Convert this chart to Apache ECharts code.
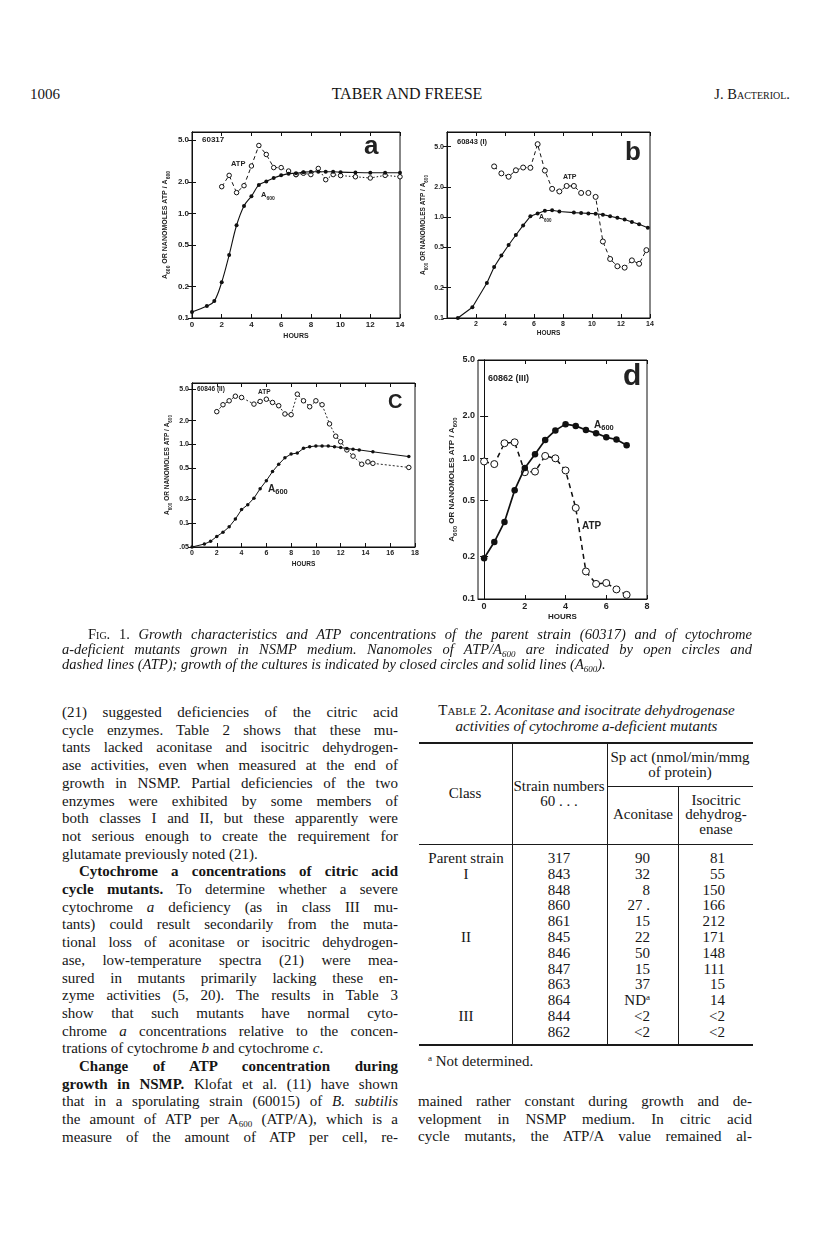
<!DOCTYPE html>
<html>
<head>
<meta charset="utf-8">
<title>Taber and Freese, p. 1006</title>
<script src="https://cdn.jsdelivr.net/npm/echarts@6.0.0/dist/echarts.min.js"></script>
<style>
  body { margin: 0; background: #fff; }
  #page { position: relative; width: 816px; height: 1235px; overflow: hidden;
          font-family: "Liberation Serif", "DejaVu Serif", serif; color: #151515; }
  #fig { position: absolute; left: 0; top: 0; width: 816px; height: 630px; }
  .t { position: absolute; white-space: nowrap; }
  .lines { position: absolute; }
  .lines div { white-space: nowrap; text-align: justify; text-align-last: justify; }
  .lines div.end { text-align-last: left; }
  .lines div.ind { text-indent: 17px; }
  sub { font-size: 9px; vertical-align: -3px; line-height: 0; }
  sup { font-size: 9px; vertical-align: 5px; line-height: 0; }
  .sc { font-variant: small-caps; }
  .rule { position: absolute; background: #1a1a1a; }
  .c { position: absolute; white-space: nowrap; transform: translate(-50%, -50%); }
  .r { position: absolute; white-space: nowrap; transform: translate(-100%, -50%); }
</style>
</head>
<body>
<div id="page">
  <div class="t" style="left:30px;top:86px;font-size:15px;">1006</div>
  <div class="t" style="left:0;width:814px;text-align:center;top:85px;font-size:16px;">TABER AND FREESE</div>
  <div class="t" style="right:26px;top:86px;font-size:14.5px;">J. <span class="sc">Bacteriol.</span></div>

  <div id="fig"></div>

  <div class="lines" style="left:62px;top:627px;width:690px;font-size:14.5px;line-height:15px;">
    <div style="text-indent:26px;"><span class="sc">Fig.</span> 1. <i>Growth characteristics and ATP concentrations of the parent strain (60317) and of cytochrome</i></div>
    <div><i>a-deficient mutants grown in NSMP medium. Nanomoles of ATP/A<sub>600</sub> are indicated by open circles and</i></div>
    <div class="end"><i>dashed lines (ATP); growth of the cultures is indicated by closed circles and solid lines (A<sub>600</sub>).</i></div>
  </div>

  <div class="lines" style="left:62px;top:704px;width:336px;font-size:15px;line-height:17.7px;">
    <div>(21) suggested deficiencies of the citric acid</div>
    <div>cycle enzymes. Table 2 shows that these mu-</div>
    <div>tants lacked aconitase and isocitric dehydrogen-</div>
    <div>ase activities, even when measured at the end of</div>
    <div>growth in NSMP. Partial deficiencies of the two</div>
    <div>enzymes were exhibited by some members of</div>
    <div>both classes I and II, but these apparently were</div>
    <div>not serious enough to create the requirement for</div>
    <div class="end">glutamate previously noted (21).</div>
    <div class="ind"><b>Cytochrome a concentrations of citric acid</b></div>
    <div><b>cycle mutants.</b> To determine whether a severe</div>
    <div>cytochrome <i>a</i> deficiency (as in class III mu-</div>
    <div>tants) could result secondarily from the muta-</div>
    <div>tional loss of aconitase or isocitric dehydrogen-</div>
    <div>ase, low-temperature spectra (21) were mea-</div>
    <div>sured in mutants primarily lacking these en-</div>
    <div>zyme activities (5, 20). The results in Table 3</div>
    <div>show that such mutants have normal cyto-</div>
    <div>chrome <i>a</i> concentrations relative to the concen-</div>
    <div class="end">trations of cytochrome <i>b</i> and cytochrome <i>c</i>.</div>
    <div class="ind"><b>Change of ATP concentration during</b></div>
    <div><b>growth in NSMP.</b> Klofat et al. (11) have shown</div>
    <div>that in a sporulating strain (60015) of <i>B. subtilis</i></div>
    <div>the amount of ATP per A<sub>600</sub> (ATP/A), which is a</div>
    <div>measure of the amount of ATP per cell, re-</div>
  </div>

  <div class="t" style="left:430px;width:313px;text-align:center;top:703px;font-size:15px;line-height:15.5px;">
    <span class="sc">Table</span> 2. <i>Aconitase and isocitrate dehydrogenase</i><br>
    <i>activities of cytochrome a-deficient mutants</i>
  </div>
  <div id="table"></div>
  <div class="t" style="left:428px;top:1053px;font-size:15px;"><sup>a</sup> Not determined.</div>

  <div class="lines" style="left:418px;top:1093px;width:334px;font-size:15px;line-height:17.7px;">
    <div>mained rather constant during growth and de-</div>
    <div>velopment in NSMP medium. In citric acid</div>
    <div>cycle mutants, the ATP/A value remained al-</div>
  </div>
</div>

<script>
// ---- Fig. 1 data (hours, A600 / nmol ATP per A600) ----
// a: parent strain 60317
const hoursA600a = [0, 1, 1.5, 2, 2.5, 3, 3.5, 4, 4.5, 5, 5.5, 6, 6.5, 7, 7.5, 8, 8.5, 9, 9.5, 10, 11, 12, 13, 14];
const a600a = [0.114, 0.13, 0.145, 0.22, 0.40, 0.77, 1.18, 1.46, 1.87, 2.02, 2.18, 2.31, 2.40, 2.42, 2.48, 2.5, 2.5, 2.5, 2.5, 2.48, 2.46, 2.45, 2.45, 2.45];
const hoursAtpA = [2, 2.5, 3, 3.5, 4, 4.5, 5, 5.5, 6, 6.5, 7, 7.5, 8, 8.5, 9, 9.5, 10, 11, 12, 13, 14];
const atpA = [1.8, 2.31, 1.58, 1.84, 2.84, 4.46, 3.66, 2.74, 2.74, 2.54, 2.35, 2.42, 2.35, 2.69, 2.1, 2.35, 2.3, 2.24, 2.18, 2.31, 2.24];
const atpDashEndA = 11;   // dashed up to 7 h, dotted afterwards

// b: 60843 (I)
const hoursA600b = [0.75, 1.75, 2.75, 3.25, 3.75, 4.25, 4.75, 5.25, 5.75, 6.25, 6.75, 7.25, 7.75, 8.75, 9.25, 9.75, 10.25, 10.75, 11.25, 11.75, 12.25, 12.75, 13.25, 13.85];
const a600b = [0.1, 0.128, 0.222, 0.321, 0.416, 0.53, 0.666, 0.828, 1.02, 1.09, 1.16, 1.17, 1.14, 1.11, 1.1, 1.09, 1.08, 1.06, 1.02, 0.985, 0.947, 0.896, 0.85, 0.785];
const hoursAtpB = [3.25, 3.75, 4.25, 4.75, 5.25, 5.75, 6.25, 6.75, 7.25, 7.75, 8.25, 8.75, 9.25, 9.75, 10.25, 10.75, 11.25, 11.75, 12.25, 12.75, 13.25, 13.75];
const atpB = [3.19, 2.72, 2.52, 2.92, 3.11, 3.09, 5.3, 2.9, 1.91, 1.8, 2.04, 2.04, 1.74, 1.74, 1.59, 0.574, 0.385, 0.326, 0.316, 0.373, 0.345, 0.471];

// c: 60846 (II)
const hoursA600c = [0, 1, 1.5, 2, 2.5, 3, 3.5, 4, 4.5, 5, 5.5, 6, 6.5, 7, 7.5, 8, 8.5, 9, 9.5, 10, 10.5, 11, 11.5, 12, 12.5, 13, 13.5, 14.6, 17.5];
const a600c = [0.05, 0.0545, 0.059, 0.068, 0.077, 0.09, 0.113, 0.149, 0.172, 0.208, 0.274, 0.347, 0.452, 0.56, 0.675, 0.755, 0.775, 0.89, 0.935, 0.954, 0.954, 0.954, 0.935, 0.91, 0.885, 0.87, 0.85, 0.805, 0.70];
const hoursAtpC = [2, 2.5, 3, 3.5, 4, 5, 5.5, 6, 6.5, 7, 7.5, 8, 8.5, 9, 9.5, 10, 10.5, 11.1, 11.6, 12, 12.5, 13, 13.7, 14.2, 14.6, 17.5];
const atpC = [2.6, 3.18, 3.57, 4.08, 3.93, 3.24, 3.5, 3.74, 3.4, 3.09, 2.43, 2.38, 4.33, 3.57, 3.0, 3.57, 3.18, 1.82, 1.27, 1.08, 0.85, 0.71, 0.56, 0.6, 0.575, 0.51];

// d: 60862 (III)
const hoursD = [0, 0.5, 1, 1.5, 2, 2.5, 3, 3.5, 4, 4.5, 5, 5.5, 6, 6.5, 7];
const a600d = [0.195, 0.254, 0.353, 0.594, 0.855, 1.07, 1.35, 1.58, 1.75, 1.7, 1.59, 1.51, 1.41, 1.36, 1.24];
const atpD = [0.95, 0.91, 1.28, 1.3, 0.797, 0.805, 1.04, 1.0, 0.82, 0.444, 0.157, 0.128, 0.13, 0.117, 0.107];

// tick positions / labels
const logTicks = [0.1, 0.2, 0.5, 1, 2, 5];
const logTicksC = [0.05, 0.1, 0.2, 0.5, 1, 2, 5];
const logTickText = ['.05', '0.1', '0.2', '0.5', '1.0', '2.0', '5.0'];
const logTickVals = [0.05, 0.1, 0.2, 0.5, 1, 2, 5];
const hourTicks14 = [0, 2, 4, 6, 8, 10, 12, 14];
const hourLabelsB = [2, 4, 6, 8, 10, 12, 14];
const hourTicks18 = [0, 2, 4, 6, 8, 10, 12, 14, 16, 18];
const hourTicks8 = [0, 2, 4, 6, 8];

// ---- Table 2 ----
const tableClass = ['Parent strain', 'I', '', '', '', 'II', '', '', '', '', 'III', ''];
const tableStrain = ['317', '843', '848', '860', '861', '845', '846', '847', '863', '864', '844', '862'];
const tableAconitase = ['90', '32', '8', '27 .', '15', '22', '50', '15', '37', 'ND<sup>a</sup>', '&lt;2', '&lt;2'];
const tableIcd = ['81', '55', '150', '166', '212', '171', '148', '111', '15', '14', '&lt;2', '&lt;2'];

const SANS = '"Liberation Sans", "DejaVu Sans", Arial, sans-serif';
const pairs = (xs, ys) => xs.map((x, k) => [x, ys[k]]);
const logLabel = v => {
  for (let k = 0; k < logTickVals.length; k++) {
    if (Math.abs(v - logTickVals[k]) / logTickVals[k] < 1e-3) return logTickText[k];
  }
  return '';
};

const atpPairsA = pairs(hoursAtpA, atpA);
const panels = [
  { box: { left: 192, top: 132, width: 208, height: 186 }, x: [0, 14], xTicks: hourTicks14, xLabels: hourTicks14,
    y: [0.1, 6], yTicks: logTicks, font: 8, nameFont: 7, yGap: 21, xGap: 15, lw: 1.1, sym: [4, 4.5], smooth: 0.35,
    a600: pairs(hoursA600a, a600a),
    atp: [[atpPairsA.slice(0, atpDashEndA), [4, 3]], [atpPairsA.slice(atpDashEndA - 1), [1.5, 2]]] },
  { box: { left: 447, top: 132, width: 203, height: 186 }, x: [0, 14], xTicks: hourTicks14, xLabels: hourLabelsB,
    y: [0.1, 7], yTicks: logTicks, font: 7, nameFont: 6.5, yGap: 18, xGap: 12, lw: 1.1, sym: [4, 5], smooth: false,
    a600: pairs(hoursA600b, a600b), atp: [[pairs(hoursAtpB, atpB), [4, 3]]] },
  { box: { left: 192, top: 383, width: 223, height: 164 }, x: [0, 18], xTicks: hourTicks18, xLabels: hourTicks18,
    y: [0.05, 6], yTicks: logTicksC, font: 7, nameFont: 6.5, yGap: 19, xGap: 14, lw: 1, sym: [3.5, 4.5], smooth: false,
    a600: pairs(hoursA600c, a600c), atp: [[pairs(hoursAtpC, atpC), [2, 2]]] },
  { box: { left: 478, top: 360, width: 169, height: 239 }, x: [-0.3, 8], xTicks: hourTicks8, xLabels: hourTicks8,
    y: [0.1, 5], yTicks: logTicks, font: 9, nameFont: 8, yGap: 20, xGap: 14, lw: 1.7, sym: [6.5, 7], smooth: false,
    a600: pairs(hoursD, a600d), atp: [[pairs(hoursD, atpD), [5, 4]]] }
];

const grid = [], xAxis = [], yAxis = [], series = [];
panels.forEach((p, i) => {
  grid.push(Object.assign({ show: true, borderColor: '#111', borderWidth: 1, backgroundColor: 'transparent' }, p.box));
  const tick = { inside: true, length: 4, lineStyle: { color: '#111', width: 1 } };
  const line = { show: true, lineStyle: { color: '#111', width: 1 } };
  const xBase = { gridIndex: i, type: 'value', min: p.x[0], max: p.x[1], splitLine: { show: false }, axisLine: line };
  xAxis.push(Object.assign({}, xBase, {
    position: 'bottom',
    axisTick: Object.assign({ customValues: p.xTicks }, tick),
    axisLabel: { customValues: p.xLabels, fontSize: p.font, fontFamily: SANS, fontWeight: 'bold', color: '#222', margin: 3 },
    name: 'HOURS', nameLocation: 'middle', nameGap: p.xGap,
    nameTextStyle: { fontSize: p.nameFont, fontFamily: SANS, fontWeight: 'bold', color: '#222' }
  }));
  xAxis.push(Object.assign({}, xBase, {
    position: 'top', axisTick: Object.assign({ customValues: p.xTicks }, tick), axisLabel: { show: false }
  }));
  const yBase = { gridIndex: i, type: 'log', logBase: 10, min: p.y[0], max: p.y[1], splitLine: { show: false }, axisLine: line };
  yAxis.push(Object.assign({}, yBase, {
    position: 'left',
    axisTick: Object.assign({ customValues: p.yTicks }, tick),
    axisLabel: { customValues: p.yTicks, formatter: logLabel, fontSize: p.font, fontFamily: SANS, fontWeight: 'bold', color: '#222', margin: 3 },
    name: '{n|A}{s|600}{n| OR NANOMOLES ATP / A}{s|600}', nameLocation: 'middle', nameGap: p.yGap,
    nameTextStyle: { rich: {
      n: { fontSize: p.nameFont, fontFamily: SANS, fontWeight: 'bold', color: '#222', lineHeight: p.nameFont + 5 },
      s: { fontSize: p.nameFont - 2, fontFamily: SANS, fontWeight: 'bold', color: '#222', verticalAlign: 'bottom' }
    } }
  }));
  yAxis.push(Object.assign({}, yBase, {
    position: 'right', axisTick: Object.assign({ customValues: p.yTicks }, tick), axisLabel: { show: false }
  }));
  p.atp.forEach(seg => {
    series.push({
      name: 'ATP', type: 'line', xAxisIndex: 2 * i, yAxisIndex: 2 * i, data: seg[0],
      symbol: 'circle', symbolSize: p.sym[1], z: 3,
      itemStyle: { color: '#fff', borderColor: '#111', borderWidth: 1 },
      lineStyle: { color: '#111', width: p.lw * 0.9, type: seg[1] }
    });
  });
  series.push({
    name: 'A600', type: 'line', xAxisIndex: 2 * i, yAxisIndex: 2 * i, data: p.a600,
    symbol: 'circle', symbolSize: p.sym[0], smooth: p.smooth, z: 4,
    itemStyle: { color: '#111' },
    lineStyle: { color: '#111', width: p.lw }
  });
});

const subRich = size => ({
  n: { fontSize: size, fontFamily: SANS, fontWeight: 'bold', fill: '#222', lineHeight: size + 4 },
  s: { fontSize: size - 2.5, fontFamily: SANS, fontWeight: 'bold', fill: '#222', verticalAlign: 'bottom' }
});
const txt = (left, top, text, size, extra) => ({
  type: 'text', left: left, top: top, z: 10,
  style: Object.assign({ text: text, fontSize: size, fontFamily: SANS, fontWeight: 'bold', fill: '#222' }, extra || {})
});

const graphic = [
  txt(202, 136, '60317', 8),
  txt(364, 134, 'a', 26),
  txt(231, 160, 'ATP', 7.5),
  txt(261, 191, '{n|A}{s|600}', 7.5, { rich: subRich(7.5) }),
  txt(457, 138, '60843 (I)', 7.5),
  txt(625, 140, 'b', 26),
  txt(563, 174, 'ATP', 7),
  txt(539, 214, '{n|A}{s|600}', 7, { rich: subRich(7) }),
  txt(197, 386, '60846 (II)', 6.5),
  txt(388, 392, 'C', 20),
  txt(258, 389, 'ATP', 6.5),
  txt(268, 484, '{n|A}{s|600}', 10, { rich: subRich(10) }),
  txt(488, 374, '60862 (III)', 9),
  txt(623, 362, 'd', 30),
  txt(594, 420, '{n|A}{s|600}', 10, { rich: subRich(10) }),
  txt(582, 521, 'ATP', 10)
];

const chart = echarts.init(document.getElementById('fig'), null, { renderer: 'canvas' });
chart.setOption({
  animation: false,
  backgroundColor: 'transparent',
  grid: grid,
  xAxis: xAxis,
  yAxis: yAxis,
  series: series,
  graphic: graphic
});

// ---- Table 2 layout ----
(function () {
  const root = document.getElementById('table');
  let html = '';
  const rule = (l, t, w, h) => { html += '<div class="rule" style="left:' + l + 'px;top:' + t + 'px;width:' + w + 'px;height:' + h + 'px;"></div>'; };
  const cell = (cls, x, y, s) => { html += '<div class="' + cls + '" style="left:' + x + 'px;top:' + y + 'px;font-size:15px;">' + s + '</div>'; };
  rule(419, 742, 334, 1.5);
  rule(607, 786, 146, 1);
  rule(419, 844, 334, 1);
  rule(419, 1044, 334, 1.5);
  rule(512, 742, 1, 303);
  rule(607, 742, 1, 303);
  rule(678, 786, 1, 259);
  cell('c', 465, 793, 'Class');
  cell('c', 559, 786, 'Strain numbers');
  cell('c', 559, 801, '60 . . .');
  cell('c', 680, 757, 'Sp act (nmol/min/mmg');
  cell('c', 680, 772, 'of protein)');
  cell('c', 643, 814, 'Aconitase');
  cell('c', 716, 800, 'Isocitric');
  cell('c', 716, 814, 'dehydrog-');
  cell('c', 716, 829, 'enase');
  for (let k = 0; k < tableStrain.length; k++) {
    const y = 858 + k * 15.8;
    if (tableClass[k]) cell('c', 466, y, tableClass[k]);
    cell('c', 559, y, tableStrain[k]);
    cell('r', 650, y, tableAconitase[k]);
    cell('r', 725, y, tableIcd[k]);
  }
  root.innerHTML = html;
})();
</script>
</body>
</html>
